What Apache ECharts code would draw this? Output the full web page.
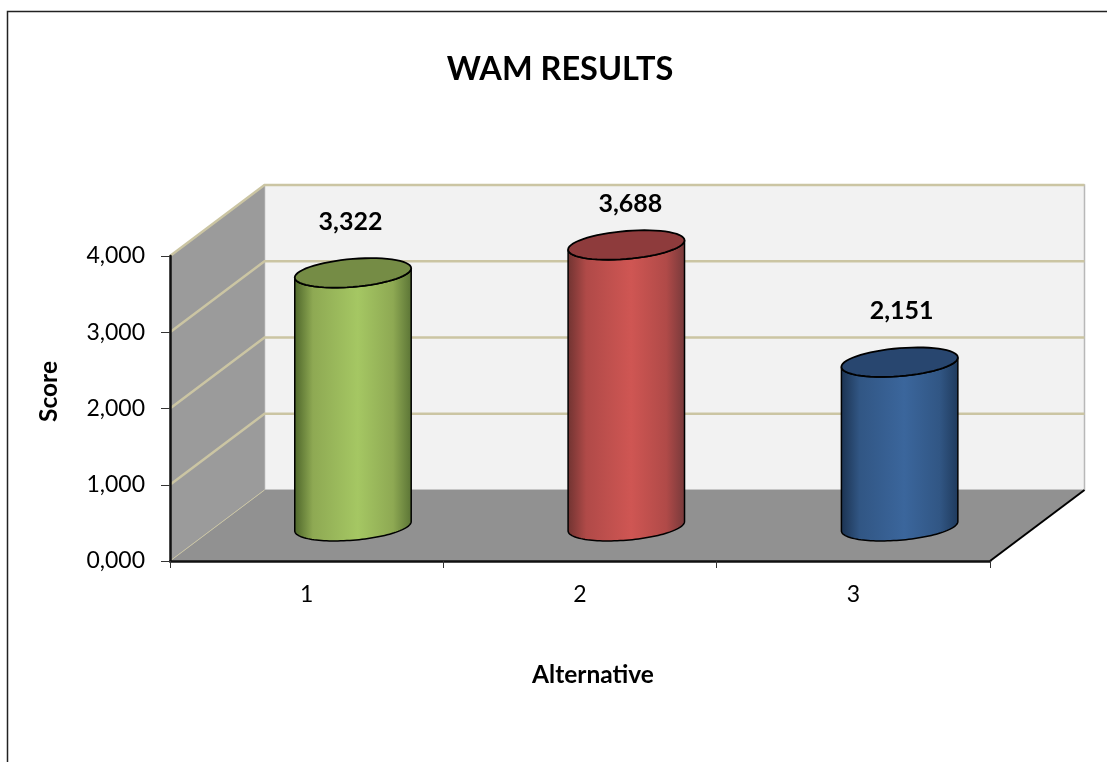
<!DOCTYPE html>
<html>
<head>
<meta charset="utf-8">
<title>WAM Results</title>
<style>
  html, body { margin: 0; padding: 0; background: #fff; }
  #chart { width: 1107px; height: 762px; }
</style>
<script src="https://cdn.jsdelivr.net/npm/echarts@6/dist/echarts.min.js"></script>
</head>
<body>
<div id="chart"></div>
<script>
// Weighted average method scores per alternative
const alternatives = ['1', '2', '3'];
const scores = [3.322, 3.688, 2.151];
const scoreTicks = [0, 1, 2, 3, 4];

// Oblique projection of the chart box
const DEPTH_X = 94.5;
const DEPTH_Y = 71;
const BAR_DEPTH = 0.49;       // where the cylinder axis sits between front and back
const BAR_WIDTH = 0.426;      // cylinder diameter as a share of the category band
const CAP_SHEAR = 0.08;
const CAP_MINOR = 14;

const FONT = 'Lato';
const GRID_COLOR = '#cbc5a3';

const barColors = [
  { edge: '#4c6429', mid: '#8ea953', light: '#a5c763', far: '#5a7335', cap: '#758c45' },
  { edge: '#6f3331', mid: '#b04a48', light: '#cf5653', far: '#75393a', cap: '#8e3b3c' },
  { edge: '#1b3250', mid: '#315684', light: '#3b669c', far: '#1f3a5c', cap: '#28466f' }
];
const labelNudges = [[-2.5, -51], [4, -41], [2, -51]];

const decimalComma = v => v.toFixed(3).replace('.', ',');

function capPoints(cx, cy, a, from, to) {
  const pts = [];
  const steps = 60;
  for (let i = 0; i <= steps; i++) {
    const t = from + (to - from) * i / steps;
    pts.push([
      cx + a * Math.cos(t),
      cy - CAP_SHEAR * a * Math.cos(t) + CAP_MINOR * Math.sin(t)
    ]);
  }
  return pts;
}

// Side wall, back wall, floor and the gridlines running round them
function renderBox(params, api) {
  const sys = params.coordSys;
  const x0 = sys.x, x1 = sys.x + sys.width;
  const yAt = v => api.coord([0, v])[1];
  const y0 = yAt(0), yTop = yAt(scoreTicks[scoreTicks.length - 1]);
  const children = [
    {
      type: 'polygon',
      shape: { points: [[x0 + DEPTH_X, yTop - DEPTH_Y], [x1 + DEPTH_X, yTop - DEPTH_Y], [x1 + DEPTH_X, y0 - DEPTH_Y], [x0 + DEPTH_X, y0 - DEPTH_Y]] },
      style: { fill: '#f2f2f2', stroke: '#b8b8b8', lineWidth: 1.5 }
    },
    {
      type: 'polygon',
      shape: { points: [[x0, yTop], [x0 + DEPTH_X, yTop - DEPTH_Y], [x0 + DEPTH_X, y0 - DEPTH_Y], [x0, y0]] },
      style: { fill: '#9b9b9b' }
    },
    {
      type: 'polygon',
      shape: { points: [[x0, y0], [x0 + DEPTH_X, y0 - DEPTH_Y], [x1 + DEPTH_X, y0 - DEPTH_Y], [x1, y0]] },
      style: { fill: '#919191' }
    }
  ];
  scoreTicks.forEach(v => {
    const y = yAt(v);
    const back = v === 0 ? [[x0, y], [x0 + DEPTH_X, y - DEPTH_Y]]
      : [[x0, y], [x0 + DEPTH_X, y - DEPTH_Y], [x1 + DEPTH_X, y - DEPTH_Y]];
    children.push({
      type: 'polyline',
      shape: { points: back },
      style: { fill: null, stroke: GRID_COLOR, lineWidth: v === 0 ? 1 : 2.5 }
    });
  });
  // Right-hand floor edge
  children.push({
    type: 'line',
    shape: { x1: x1, y1: y0, x2: x1 + DEPTH_X, y2: y0 - DEPTH_Y },
    style: { stroke: '#000', lineWidth: 2 }
  });
  return { type: 'group', children };
}

// One cylinder standing on the floor, with its value printed above
function renderCylinder(params, api) {
  const i = params.dataIndex;
  const value = api.value(1);
  const front = api.coord([api.value(0), value]);
  const base = api.coord([api.value(0), 0]);
  const a = api.size([1, 0])[0] * BAR_WIDTH / 2;
  const cx = front[0] + DEPTH_X * BAR_DEPTH;
  const top = front[1] - DEPTH_Y * BAR_DEPTH;
  const bottom = base[1] - DEPTH_Y * BAR_DEPTH;
  const c = barColors[i];
  const sidePts = capPoints(cx, bottom, a, 0, Math.PI);
  const body = capPoints(cx, top, a, Math.PI, 0).concat(sidePts);
  return {
    type: 'group',
    children: [
      {
        type: 'polygon',
        shape: { points: body },
        style: {
          fill: new echarts.graphic.LinearGradient(0, 0, 1, 0, [
            { offset: 0, color: c.edge },
            { offset: 0.16, color: c.mid },
            { offset: 0.54, color: c.light },
            { offset: 0.84, color: c.mid },
            { offset: 1, color: c.far }
          ]),
          stroke: '#000', lineWidth: 1.5
        }
      },
      {
        type: 'polygon',
        shape: { points: capPoints(cx, top, a, 0, Math.PI * 2) },
        style: { fill: c.cap, stroke: '#000', lineWidth: 1.8 }
      },
      {
        type: 'text',
        style: {
          text: decimalComma(value),
          x: cx + labelNudges[i][0],
          y: top + labelNudges[i][1],
          align: 'center',
          verticalAlign: 'middle',
          font: 'bold 25px ' + FONT,
          fill: '#000'
        }
      }
    ]
  };
}

const chart = echarts.init(document.getElementById('chart'), null, { renderer: 'canvas' });
chart.setOption({
  animation: false,
  backgroundColor: '#fff',
  title: {
    text: 'WAM RESULTS',
    left: 555,
    top: 48,
    textAlign: 'center',
    textStyle: { fontFamily: FONT, fontWeight: 'bold', fontSize: 32.5, color: '#000' }
  },
  graphic: [{
    type: 'polyline',
    silent: true,
    shape: { points: [[7.5, 762], [7.5, 11.5], [1107, 11.5]] },
    style: { fill: null, stroke: '#222', lineWidth: 1.5 }
  }],
  grid: { left: 170, right: 117, top: 256, bottom: 201 },
  xAxis: {
    type: 'category',
    data: alternatives,
    name: 'Alternative',
    nameLocation: 'middle',
    nameGap: 102,
    nameTextStyle: { fontFamily: FONT, fontWeight: 'bold', fontSize: 24.5, color: '#000', padding: [0, 0, 0, 26] },
    z: 10,
    axisLine: { lineStyle: { color: '#111', width: 2.5 } },
    axisTick: { show: true, length: 7, alignWithLabel: false, lineStyle: { color: '#333', width: 1 } },
    axisLabel: { fontFamily: FONT, fontSize: 23, color: '#000', margin: 22 },
    splitLine: { show: false }
  },
  yAxis: {
    type: 'value',
    min: 0,
    max: 4,
    interval: 1,
    name: 'Score',
    nameLocation: 'middle',
    nameGap: 108,
    nameRotate: 90,
    nameTextStyle: { fontFamily: FONT, fontWeight: 'bold', fontSize: 24.5, color: '#000', padding: [0, 0, 0, 34] },
    z: 10,
    axisLine: { show: true, lineStyle: { color: '#111', width: 2.5 } },
    axisTick: { show: true, length: 9, lineStyle: { color: '#333', width: 1 } },
    axisLabel: { fontFamily: FONT, fontSize: 23, color: '#000', margin: 25, formatter: decimalComma },
    splitLine: { show: false }
  },
  series: [
    {
      type: 'custom',
      name: 'Box',
      silent: true,
      z: 1,
      renderItem: renderBox,
      data: [[0, 0]],
      encode: { x: 0, y: 1 }
    },
    {
      type: 'custom',
      name: 'Score',
      z: 3,
      renderItem: renderCylinder,
      data: scores.map((v, i) => [i, v]),
      encode: { x: 0, y: 1 }
    }
  ]
});
</script>
</body>
</html>
